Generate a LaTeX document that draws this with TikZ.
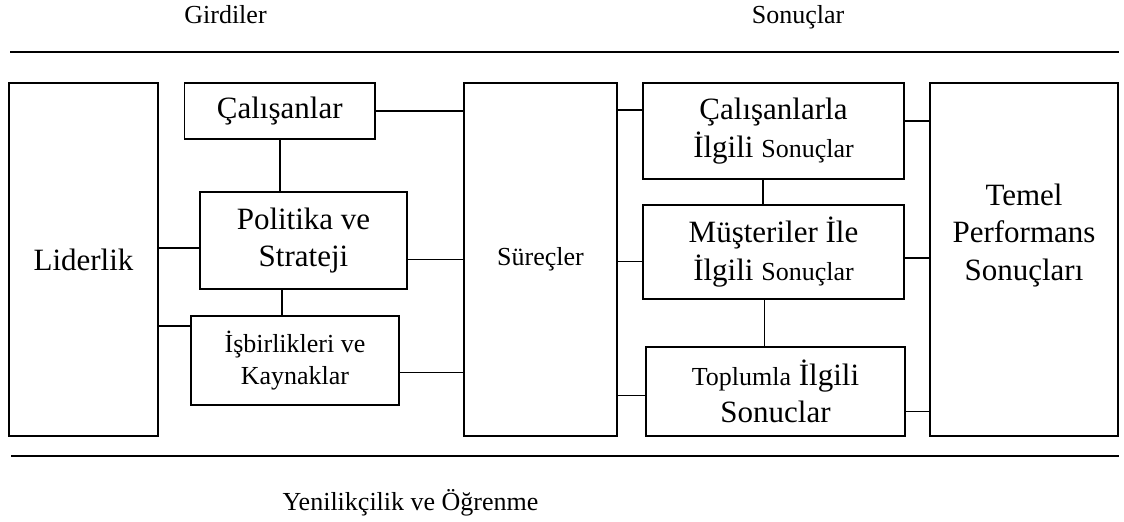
\documentclass[tikz,border=0pt]{standalone}
\usepackage{fontspec}
\setmainfont{Liberation Serif}
\usetikzlibrary{positioning}

\newcommand\iri{\fontsize{15.5}{18.75}\selectfont}
\newcommand\ince{\fontsize{13}{16}\selectfont}

\begin{document}
\begin{tikzpicture}[x=0.5pt,y=-0.5pt,
  kutu/.style={draw, line width=0.7pt, inner sep=0pt, align=center, font=\iri},
  bag/.style={line width=0.9pt},
  cizgi/.style={line width=1.3pt},
  baslik/.style={anchor=base, inner sep=0pt, font=\ince}]

\useasboundingbox (0,0) rectangle (1124,521);

%% ================= başlıklar ve yatay çizgiler ===========================
\node[baslik] (girdi) at (225.5,23) {Girdiler};
\node[baslik] (sonuc) at (798,23)   {Sonuçlar};
\draw[cizgi] (10,52) -- (1119,52);
\draw[cizgi] (11,456) -- (1119,456);
\node[baslik] (yenilik) at (410.5,510) {Yenilikçilik ve Öğrenme};

%% ================= girdiler ==============================================
\node[kutu, minimum width=74.5pt, minimum height=176.5pt] (Lider) at (83.5,259.5) {Liderlik};
\node[kutu, minimum width=95.25pt, minimum height=28pt]   (Calis) at (279.75,111) {Çalışanlar};
\node[kutu, minimum width=103.5pt, minimum height=48.5pt] (Polit) at (303.5,240.5) {Politika ve\\Strateji};
\node[kutu, minimum width=104pt, minimum height=44.5pt, font=\ince] (Isbir) at (295,360.5)
  {İşbirlikleri ve\\Kaynaklar};

%% ================= süreçler ==============================================
\node[kutu, minimum width=76.5pt, minimum height=176.5pt, font=\ince] (Surec) at (540.5,259.5) {Süreçler};

%% ================= sonuçlar ==============================================
\node[kutu, minimum width=130.5pt, minimum height=48pt] (CalSon) at (773.5,131)
  {Çalışanlarla\\İlgili {\ince Sonuçlar}};
\node[kutu, minimum width=130.5pt, minimum height=47pt] (Muster) at (773.5,252)
  {Müşteriler İle\\İlgili {\ince Sonuçlar}};
\node[kutu, minimum width=129.5pt, minimum height=44.5pt] (Toplum) at (775.5,391.5)
  {{\ince Toplumla} İlgili\\Sonuclar};
\node[kutu, minimum width=94pt, minimum height=176.5pt] (Temel) at (1024,259.5) {};
\node[inner sep=0pt, align=center, font=\iri, yshift=12pt] (TemelYazi) at (Temel.center)
  {Temel\\Performans\\Sonuçları};

%% ================= bağlantılar ===========================================
\draw[bag] (Calis.east) -- (Calis.east -| Surec.west);
\draw[bag] (Calis.south) -- (Calis.south |- Polit.north);
\draw[bag] ([yshift=-3.75pt]Polit.west) -- ([yshift=-3.75pt]Polit.west -| Lider.east);
\draw[bag] (Surec.west) -- (Surec.west -| Polit.east);
\draw[bag] ([xshift=-10.75pt]Polit.south) -- ([xshift=-10.75pt]Polit.south |- Isbir.north);
\draw[bag] ([yshift=17.25pt]Isbir.west) -- ([yshift=17.25pt]Isbir.west -| Lider.east);
\draw[bag] ([yshift=-6pt]Isbir.east) -- ([yshift=-6pt]Isbir.east -| Surec.west);

\draw[bag] ([yshift=10.5pt]CalSon.west) -- ([yshift=10.5pt]CalSon.west -| Surec.east);
\draw[bag] ([yshift=-4.75pt]Muster.west) -- ([yshift=-4.75pt]Muster.west -| Surec.east);
\draw[bag] ([yshift=-2pt]Toplum.west) -- ([yshift=-2pt]Toplum.west -| Surec.east);
\draw[bag] ([xshift=-5.25pt]CalSon.south) -- ([xshift=-5.25pt]CalSon.south |- Muster.north);
\draw[bag] ([xshift=-4.5pt]Muster.south) -- ([xshift=-4.5pt]Muster.south |- Toplum.north);

\draw[bag] ([yshift=5pt]CalSon.east) -- ([yshift=5pt]CalSon.east -| Temel.west);
\draw[bag] ([yshift=-3pt]Muster.east) -- ([yshift=-3pt]Muster.east -| Temel.west);
\draw[bag] ([yshift=-10pt]Toplum.east) -- ([yshift=-10pt]Toplum.east -| Temel.west);
\end{tikzpicture}
\end{document}
